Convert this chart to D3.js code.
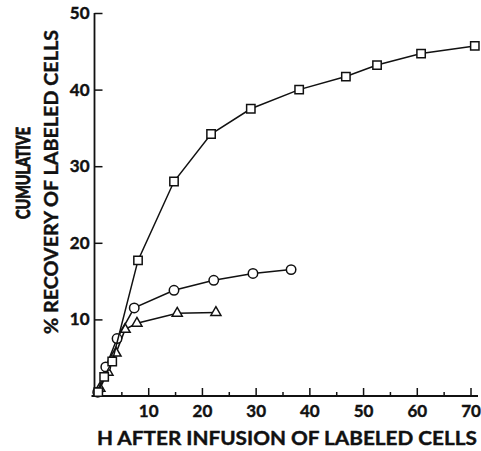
<!DOCTYPE html>
<html>
<head>
<meta charset="utf-8">
<script src="https://cdn.jsdelivr.net/npm/d3@7"></script>
<style>
  body { margin: 0; background: #fff; }
  svg { display: block; }
  text { font-family: Lato, "DejaVu Sans", sans-serif; font-weight: 700; fill: #111; }
</style>
</head>
<body>
<div id="chart"></div>
<script>
// Cumulative recovery of labeled cells, three groups
const squareHours = [0.7, 1.8, 3.3, 8.1, 14.8, 21.7, 29.1, 38.1, 46.8, 52.6, 60.8, 70.8];
const squareValues = [0.5, 2.5, 4.5, 17.7, 28, 34.2, 37.5, 40, 41.7, 43.2, 44.7, 45.7];

const circleHours = [0.6, 2.1, 4.2, 7.4, 14.8, 22.2, 29.5, 36.6];
const circleValues = [0.5, 3.8, 7.5, 11.5, 13.8, 15.1, 16.0, 16.5];

const triangleHours = [1.0, 2.5, 4.0, 5.7, 7.9, 15.4, 22.6];
const triangleValues = [1.0, 3.1, 5.6, 8.7, 9.5, 10.8, 10.9];

const xMajorTicks = [10, 20, 30, 40, 50, 60, 70];
const xMinorTicks = [5, 15, 25, 35, 45, 55, 65];
const yTicks = [10, 20, 30, 40, 50];

const width = 481,
    height = 451;

const svg = d3.select('#chart').append('svg')
  .attr('width', width)
  .attr('height', height);

const x = d3.scaleLinear().domain([0, 70]).range([94.5, 470.5]);
const y = d3.scaleLinear().domain([0, 50]).range([396, 13]);

// Axes, ticks pointing inward
const yAxis = svg.append('g')
  .attr('transform', 'translate(' + x(0) + ',0)')
  .call(d3.axisLeft(y).tickValues(yTicks).tickSize(-8).tickPadding(5).tickFormat(d3.format('d')));
yAxis.select('.domain').remove();

const xAxis = svg.append('g')
  .attr('transform', 'translate(0,' + y(0) + ')')
  .call(d3.axisBottom(x).tickValues(xMajorTicks).tickSize(-8).tickPadding(9).tickFormat(d3.format('d')));
xAxis.select('.domain').remove();

const xMinor = svg.append('g')
  .attr('transform', 'translate(0,' + y(0) + ')')
  .call(d3.axisBottom(x).tickValues(xMinorTicks).tickSize(-4).tickFormat(''));
xMinor.select('.domain').remove();

svg.selectAll('.tick line').attr('stroke', '#111').attr('stroke-width', 1.5);
svg.selectAll('.tick text')
  .style('font-size', '17px')
  .attr('stroke', '#111').attr('stroke-width', 0.4);

// axis lines
svg.append('line')
  .attr('x1', x(0)).attr('x2', x(0))
  .attr('y1', y(50)).attr('y2', y(0))
  .attr('stroke', '#111').attr('stroke-width', 1.8);
svg.append('line')
  .attr('x1', x(0) - 3).attr('x2', 478)
  .attr('y1', y(0)).attr('y2', y(0))
  .attr('stroke', '#111').attr('stroke-width', 1.8);

// Axis titles (condensed heavy lettering, faked with a thin stroke)
svg.append('text')
  .attr('x', 97).attr('y', 445)
  .attr('textLength', 380).attr('lengthAdjust', 'spacingAndGlyphs')
  .attr('stroke', '#111').attr('stroke-width', 0.4)
  .style('font-size', '19px')
  .text('H AFTER INFUSION OF LABELED CELLS');

svg.append('text')
  .attr('transform', 'translate(30,173) rotate(-90)')
  .attr('text-anchor', 'middle')
  .attr('textLength', 92).attr('lengthAdjust', 'spacingAndGlyphs')
  .attr('stroke', '#111').attr('stroke-width', 0.9)
  .style('font-size', '19px')
  .text('CUMULATIVE');

svg.append('text')
  .attr('transform', 'translate(58,182) rotate(-90)')
  .attr('text-anchor', 'middle')
  .attr('textLength', 304).attr('lengthAdjust', 'spacingAndGlyphs')
  .attr('stroke', '#111').attr('stroke-width', 0.4)
  .style('font-size', '19px')
  .text('% RECOVERY OF LABELED CELLS');

const line = d3.line()
  .x(d => x(d[0]))
  .y(d => y(d[1]));

function drawSeries(hours, values, shape) {
  const pts = d3.zip(hours, values);
  svg.append('path')
    .datum(pts)
    .attr('d', line)
    .attr('fill', 'none')
    .attr('stroke', '#111')
    .attr('stroke-width', 1.5);

  svg.append('g').selectAll('path')
    .data(pts)
    .join('path')
    .attr('transform', d => 'translate(' + x(d[0]) + ',' + y(d[1]) + ')')
    .attr('d', d3.symbol().type(shape.type).size(shape.size))
    .attr('fill', '#fff')
    .attr('stroke', '#111')
    .attr('stroke-width', 1.5);
}

drawSeries(triangleHours, triangleValues, {type: d3.symbolTriangle, size: 44});
drawSeries(circleHours, circleValues, {type: d3.symbolCircle, size: 70});
drawSeries(squareHours, squareValues, {type: d3.symbolSquare, size: 70});
</script>
</body>
</html>
